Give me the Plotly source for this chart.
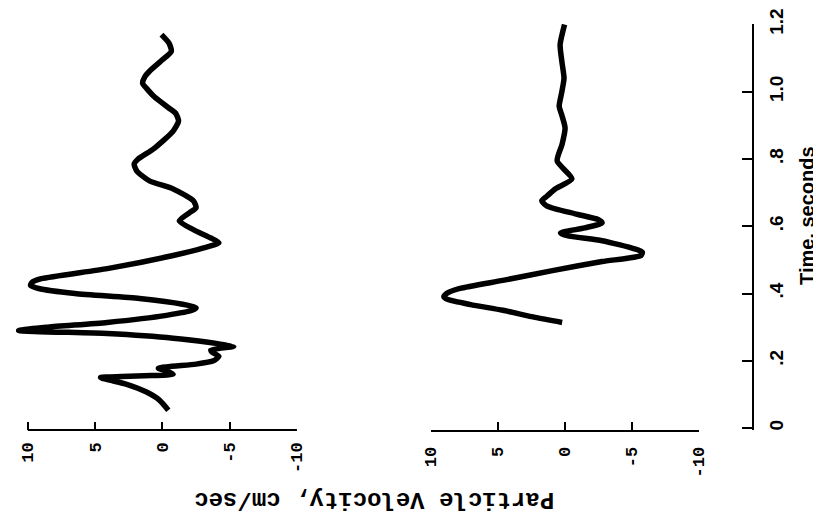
import plotly.graph_objects as go

# ---------------- data ----------------
top_time = [0.053, 0.083, 0.107, 0.130, 0.150, 0.153, 0.156, 0.160, 0.170, 0.178,
            0.190, 0.200, 0.213, 0.225, 0.232, 0.243, 0.267, 0.281, 0.290, 0.300,
            0.314, 0.335, 0.350, 0.358, 0.368, 0.385, 0.400, 0.415, 0.424, 0.433,
            0.444, 0.474, 0.513, 0.535, 0.551, 0.565, 0.590, 0.616, 0.640, 0.655,
            0.676, 0.711, 0.735, 0.764, 0.785, 0.800, 0.830, 0.883, 0.913, 0.935,
            0.951, 0.985, 1.010, 1.025, 1.045, 1.061, 1.095, 1.120, 1.144, 1.170]
top_vel = [-0.44, 0.22, 1.18, 2.65, 4.6, 3.0, 0.8, -0.8, -0.3, 0.3,
           -2.5, -3.8, -4.2, -3.7, -3.6, -5.3, -0.8, 4.1, 10.7, 8.5,
           4.1, -0.3, -2.2, -2.5, -1.5, 1.7, 6.5, 9.2, 9.8, 9.7,
           9.0, 4.1, -0.8, -3.0, -4.2, -3.6, -2.3, -1.25, -2.0, -2.5,
           -2.3, -0.8, 0.96, 1.9, 2.1, 1.8, 0.66, -0.8, -1.2, -1.0,
           -0.5, 0.6, 1.18, 1.47, 1.3, 0.96, 0.0, -0.66, -0.5, 0.07]

bot_time = [0.314, 0.329, 0.350, 0.367, 0.382, 0.390, 0.400, 0.415, 0.439, 0.468,
            0.495, 0.513, 0.523, 0.533, 0.557, 0.572, 0.580, 0.595, 0.610, 0.620,
            0.637, 0.660, 0.676, 0.690, 0.711, 0.741, 0.794, 0.844, 0.892, 0.930,
            0.957, 1.000, 1.040, 1.090, 1.140, 1.200]
bot_vel = [0.18, 2.2, 4.6, 7.0, 8.7, 9.0, 8.8, 7.8, 4.6, 0.9,
           -2.8, -5.7, -5.8, -5.2, -2.8, -0.2, 0.3, -1.5, -2.8, -2.5,
           -0.8, 1.3, 1.7, 1.3, 0.7, -0.55, 0.55, 0.18, -0.04, 0.2,
           0.4, 0.2, 0.04, 0.2, 0.33, 0.0]

vel_ticks = [10, 5, 0, -5, -10]
vel_labels = ["10", "5", "0", "-5", "-10"]
time_ticks = [0, 0.2, 0.4, 0.6, 0.8, 1.0, 1.2]
time_labels = ["0", ".2", ".4", ".6", ".8", "1.0", "1.2"]

# ---------------- layout geometry ----------------
# The page body has an 8 px margin, so the figure is drawn 8 px in from the
# window corner; targets below are window pixels and are converted.
OFF = 8
WIN_W, WIN_H = 821, 519
W, H = WIN_W - OFF, WIN_H - OFF

AX_LEFT = 8       # window px, left edge of plotting area
AX_RIGHT = 753    # window px, time axis line
AX_TOP = 23       # window px, time = 1.2
AX_BOTTOM = 430   # window px, velocity axes lines

ML = max(0, AX_LEFT - OFF)
MR = W - (AX_RIGHT - OFF)
MT = AX_TOP - OFF
MB = H - (AX_BOTTOM - OFF)
PW = W - ML - MR
PH = H - MT - MB


def px(xwin):
    return (xwin - OFF - ML) / PW


def py(ywin):
    return (H - MB - (ywin - OFF)) / PH


# panel 1: 10 at window px 20, -10 at px 292 ; extra room on the left for overshoot
p1_10, p1_m10 = 20, 292
p1_left = ML + OFF
scale1 = (p1_m10 - p1_10) / 20.0
p1_range = [10 + (p1_10 - p1_left) / scale1, -10]
# panel 2: 10 at window px 427, -10 at px 698
p2_10, p2_m10 = 427, 698

# time range: 1.2 at AX_TOP, 0 at 428
t_per_px = 1.2 / (428 - AX_TOP)
t_min = -(AX_BOTTOM - 428) * t_per_px
t_max = 1.2 + 0.5 * t_per_px

mono = "Liberation Mono"
sans = "Liberation Sans"

fig = go.Figure()
fig.add_trace(go.Scatter(x=top_vel, y=top_time, mode="lines", xaxis="x", yaxis="y",
                         line=dict(color="black", width=5.5, shape="spline", smoothing=0.6),
                         showlegend=False, hoverinfo="skip"))
fig.add_trace(go.Scatter(x=bot_vel, y=bot_time, mode="lines", xaxis="x2", yaxis="y",
                         line=dict(color="black", width=5.5, shape="spline", smoothing=0.6),
                         showlegend=False, hoverinfo="skip"))

vel_axis_common = dict(
    tickmode="array", tickvals=vel_ticks, ticktext=vel_labels,
    ticks="inside", ticklen=8, tickwidth=2, tickcolor="black",
    tickangle=-90, ticklabelstandoff=8, ticklabeloverflow="allow",
    tickfont=dict(family=mono, size=17, color="black", weight="bold"),
    showgrid=False, zeroline=False, anchor="y", fixedrange=True,
)

fig.update_layout(
    width=W, height=H,
    margin=dict(l=ML, r=MR, t=MT, b=MB, pad=0),
    paper_bgcolor="white", plot_bgcolor="white",
    xaxis=dict(domain=[px(p1_left), px(p1_m10)], range=p1_range, showline=False,
               **vel_axis_common),
    xaxis2=dict(domain=[px(p2_10), px(p2_m10)], range=[10, -10], showline=True,
                linecolor="black", linewidth=2, **vel_axis_common),
    yaxis=dict(range=[t_min, t_max], anchor="free", position=1.0, side="right",
               showline=True, linecolor="black", linewidth=2,
               tickmode="array", tickvals=time_ticks, ticktext=time_labels,
               ticks="inside", ticklen=10, tickwidth=2, tickcolor="black",
               tickangle=-90, ticklabelstandoff=6, ticklabeloverflow="allow",
               tickfont=dict(family=sans, size=19, color="black", weight="bold"),
               showgrid=False, zeroline=False, fixedrange=True),
    shapes=[dict(type="line", xref="x", yref="y domain", x0=vel_ticks[0], x1=vel_ticks[-1],
                 y0=0, y1=0, line=dict(color="black", width=2))],
    annotations=[
        dict(text="Time, seconds", xref="paper", yref="paper", x=px(807), y=py(215),
             xanchor="center", yanchor="middle", textangle=-90, showarrow=False,
             font=dict(family=sans, size=20, color="black", weight="bold")),
        dict(text="Particle Velocity, cm/sec", xref="paper", yref="paper",
             x=px(370), y=py(499), xanchor="center", yanchor="middle",
             textangle=180, showarrow=False,
             font=dict(family=mono, size=24, color="black", weight="bold")),
    ],
)

fig.write_html("out.html")
